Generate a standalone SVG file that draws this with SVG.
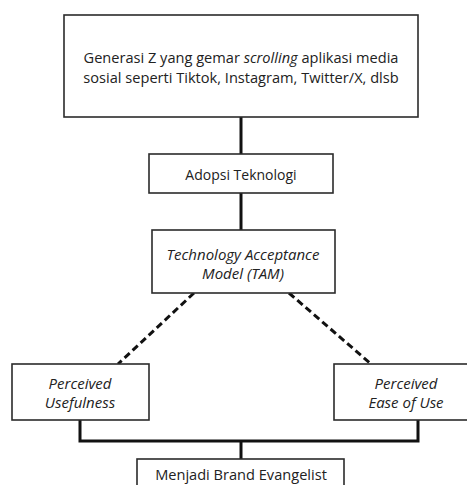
<svg xmlns="http://www.w3.org/2000/svg" width="467" height="485" viewBox="0 0 467 485">
<style>
.box{fill:#fff;stroke:#2b2b2b;stroke-width:1.6}
.t{font-family:"Open Sans","Noto Sans",sans-serif;font-size:14.6px;fill:#222;text-anchor:middle;dominant-baseline:central}
.i{font-style:italic;font-size:15px}
.s{font-size:14px}
.c{stroke:#111;stroke-width:3;fill:none}
.d{stroke:#111;stroke-width:3;fill:none;stroke-dasharray:7 4}
</style>
<rect width="467" height="485" fill="#fff"/>
<g id="connectors">
<line class="c" x1="241" y1="117" x2="241" y2="154"/>
<line class="c" x1="241" y1="193" x2="241" y2="230"/>
<line class="d" x1="194" y1="293" x2="118" y2="364"/>
<line class="d" x1="289" y1="293" x2="371" y2="364"/>
<polyline class="c" points="80,420 80,441 418,441 418,420"/>
<line class="c" x1="241" y1="441" x2="241" y2="459"/>
</g>
<g id="n1">
<rect class="box" x="64" y="15" width="354" height="102"/>
<text class="t" x="241" y="57">Generasi Z yang gemar <tspan style="font-style:italic">scrolling</tspan> aplikasi media</text>
<text class="t" x="241" y="77">sosial seperti Tiktok, Instagram, Twitter/X, dlsb</text>
</g>
<g id="n2">
<rect class="box" x="149" y="154" width="184" height="39"/>
<text class="t s" x="241" y="174">Adopsi Teknologi</text>
</g>
<g id="n3">
<rect class="box" x="152" y="230" width="183" height="63"/>
<text class="t i" x="243" y="254">Technology Acceptance</text>
<text class="t i" x="243" y="273">Model (TAM)</text>
</g>
<g id="n4">
<rect class="box" x="12" y="364" width="137" height="56"/>
<text class="t i" x="80" y="383">Perceived</text>
<text class="t i" x="80" y="402">Usefulness</text>
</g>
<g id="n5">
<rect class="box" x="334" y="364" width="140" height="56"/>
<text class="t i" x="406" y="383">Perceived</text>
<text class="t i" x="406" y="402">Ease of Use</text>
</g>
<g id="n6">
<rect class="box" x="137" y="459" width="207" height="40"/>
<text class="t" x="241" y="474">Menjadi Brand Evangelist</text>
</g>
</svg>
